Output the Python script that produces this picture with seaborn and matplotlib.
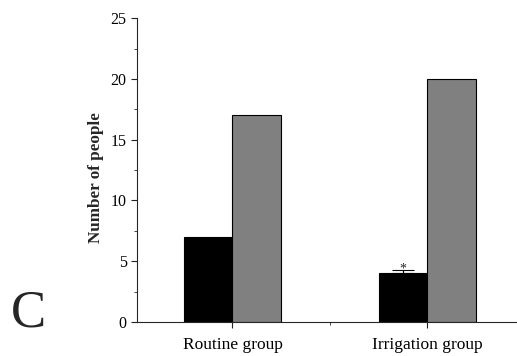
import matplotlib
matplotlib.use("Agg")
import matplotlib.pyplot as plt
from matplotlib.ticker import MultipleLocator, FixedLocator
import seaborn as sns
import pandas as pd

groups = ["Routine group", "Irrigation group"]
series = ["A", "B"]
values_a = [7, 4]
values_b = [17, 20]
err_a = [0, 0.3]
y_ticks = [0, 5, 10, 15, 20, 25]

sns.set_style("ticks")
plt.rcParams["font.family"] = ["Liberation Serif", "DejaVu Serif"]

df = pd.DataFrame({
    "group": groups * 2,
    "series": [series[0]] * 2 + [series[1]] * 2,
    "value": values_a + values_b,
})

fig = plt.figure(figsize=(5.17, 3.56), dpi=100)
ax = fig.add_axes([0.265, 0.0955, 0.735, 0.8535])
sns.barplot(data=df, x="group", y="value", hue="series", order=groups,
            hue_order=series, palette=["#000000", "#808080"], width=0.5,
            edgecolor="black", linewidth=0.8, errorbar=None, legend=False,
            ax=ax, saturation=1)

# error bar for the irrigation black bar
xa = [p.get_x() + p.get_width() / 2 for p in ax.patches[:2]]
ax.errorbar([xa[1]], [values_a[1]], yerr=[[0], [err_a[1]]], fmt="none",
            ecolor="black", elinewidth=0.8, capsize=8, capthick=0.8)
ax.text(xa[1], values_a[1] + err_a[1] + 0.05, "*", ha="center", va="center",
        fontsize=10)

ax.set_ylim(0, 25)
ax.set_xlim(-0.49, 1.46)
ax.set_yticks(y_ticks)
ax.yaxis.set_minor_locator(MultipleLocator(2.5))
ax.xaxis.set_minor_locator(FixedLocator([0.5]))
ax.tick_params(axis="both", which="major", length=4, width=0.8,
               direction="out", colors="#222222", labelcolor="black")
ax.tick_params(axis="y", which="major", labelsize=11.5)
ax.tick_params(axis="x", which="major", labelsize=12.5, pad=7)
ax.tick_params(axis="both", which="minor", length=2.5, width=0.6, direction="out")
ax.set_xlabel("")
ax.set_ylabel("Number of people", fontsize=12.3, fontweight="bold")
ax.yaxis.set_label_coords(-0.087, 0.477)
for s in ["top", "right"]:
    ax.spines[s].set_visible(False)
for s in ["left", "bottom"]:
    ax.spines[s].set_linewidth(0.8)

fig.text(0.022, 0.053, "C", fontsize=38, ha="left", va="bottom")

fig.savefig("out.png", dpi=100)
